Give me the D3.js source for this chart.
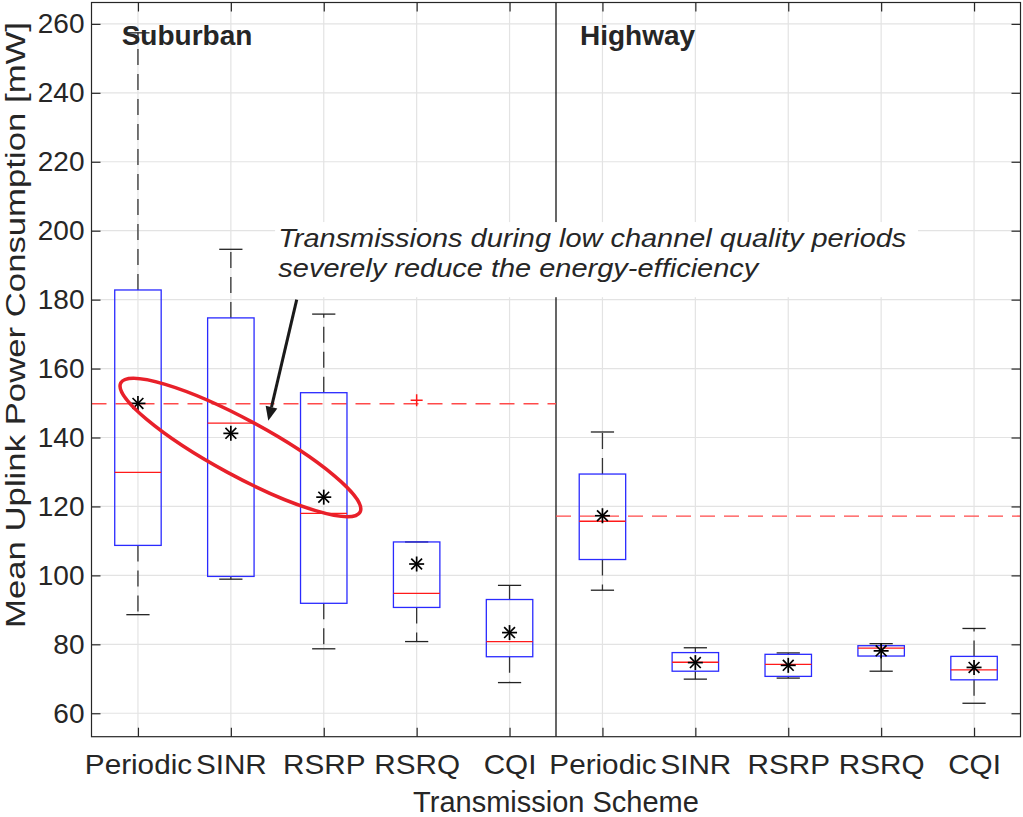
<!DOCTYPE html>
<html>
<head>
<meta charset="utf-8">
<script src="https://cdn.jsdelivr.net/npm/d3@7"></script>
<style>
  body { margin: 0; background: #fff; }
  text { font-family: Arial, 'Liberation Sans', Helvetica, sans-serif; fill: #262626; }
</style>
</head>
<body>
<div id="chart"></div>
<script>
const w = 1023;
const h = 817;

// data
const categories = ['Periodic', 'SINR', 'RSRP', 'RSRQ', 'CQI', 'Periodic', 'SINR', 'RSRP', 'RSRQ', 'CQI'];
const groups = ['Suburban', 'Highway'];
const q1 = [108.7, 99.7, 91.9, 90.7, 76.4, 104.6, 72.2, 70.7, 76.6, 69.7];
const medians = [129.9, 144.2, 118.0, 94.8, 80.8, 115.7, 74.8, 74.2, 78.9, 72.6];
const q3 = [182.8, 174.7, 153.0, 109.7, 93.0, 129.4, 77.6, 77.1, 79.6, 76.5];
const whiskerLow = [88.6, 98.9, 78.7, 80.8, 68.9, 95.7, 69.9, 70.2, 72.2, 62.9];
const whiskerHigh = [257.4, 194.6, 175.8, 109.7, 97.1, 141.6, 79.0, 77.5, 80.2, 84.6];
const means = [149.9, 141.2, 122.7, 103.3, 83.4, 117.3, 74.7, 73.9, 78.1, 73.3];
const outlierCategory = [4];
const outlierValue = [150.8];
const groupMean = [149.8, 117.2];
const yTicks = [60, 80, 100, 120, 140, 160, 180, 200, 220, 240, 260];
const annotation = ['Transmissions during low channel quality periods', 'severely reduce the energy-efficiency'];

const positions = categories.map((c, i) => i + 1);
const boxHalf = 0.25;
const capHalf = 0.125;

const svg = d3.select('#chart')
  .append('svg')
  .attr('width', w)
  .attr('height', h);

const xScale = d3.scaleLinear()
  .domain([0.5, 10.5])
  .range([91.5, 1020.5]);
const yScale = d3.scaleLinear()
  .domain([53.2, 266.2])
  .range([736.7, 2.5]);

//grid
svg.append('g')
  .selectAll('line')
  .data(yTicks)
  .enter()
  .append('line')
  .attr('x1', xScale(0.5))
  .attr('x2', xScale(10.5))
  .attr('y1', d => yScale(d))
  .attr('y2', d => yScale(d))
  .attr('stroke', '#e3e3e3')
  .attr('stroke-width', 1.2);

svg.append('g')
  .selectAll('line')
  .data(positions)
  .enter()
  .append('line')
  .attr('x1', d => xScale(d))
  .attr('x2', d => xScale(d))
  .attr('y1', yScale(53.2))
  .attr('y2', yScale(266.2))
  .attr('stroke', '#e3e3e3')
  .attr('stroke-width', 1.2);

// group divider
svg.append('line')
  .attr('x1', xScale(5.5))
  .attr('x2', xScale(5.5))
  .attr('y1', yScale(53.2))
  .attr('y2', yScale(266.2))
  .attr('stroke', '#000')
  .attr('stroke-width', 1.2);

// dashed reference lines (periodic mean of each group)
svg.append('g')
  .selectAll('line')
  .data(groupMean)
  .enter()
  .append('line')
  .attr('x1', (d, i) => xScale(0.5 + i * 5))
  .attr('x2', (d, i) => xScale(5.5 + i * 5))
  .attr('y1', d => yScale(d))
  .attr('y2', d => yScale(d))
  .attr('stroke', '#ff4a4a')
  .attr('stroke-width', 1.4)
  .attr('stroke-dasharray', '15 9');

// whiskers
const boxes = svg.append('g');
positions.forEach((p, i) => {
  [[q3[i], whiskerHigh[i]], [q1[i], whiskerLow[i]]].forEach(([a, b]) => {
    if (a === b) return;
    boxes.append('line')
      .attr('x1', xScale(p))
      .attr('x2', xScale(p))
      .attr('y1', yScale(a))
      .attr('y2', yScale(b))
      .attr('stroke', '#333')
      .attr('stroke-width', 1.3)
      .attr('stroke-dasharray', '16 9');
  });
  [whiskerHigh[i], whiskerLow[i]].forEach(v => {
    boxes.append('line')
      .attr('x1', xScale(p - capHalf))
      .attr('x2', xScale(p + capHalf))
      .attr('y1', yScale(v))
      .attr('y2', yScale(v))
      .attr('stroke', '#222')
      .attr('stroke-width', 1.3);
  });
});

// boxes
boxes.selectAll('rect')
  .data(positions)
  .enter()
  .append('rect')
  .attr('x', d => xScale(d - boxHalf))
  .attr('width', xScale(1 + boxHalf) - xScale(1 - boxHalf))
  .attr('y', (d, i) => yScale(q3[i]))
  .attr('height', (d, i) => yScale(q1[i]) - yScale(q3[i]))
  .attr('fill', 'none')
  .attr('stroke', '#2a2aff')
  .attr('stroke-width', 1.3);

// medians
boxes.selectAll('line.median')
  .data(positions)
  .enter()
  .append('line')
  .attr('class', 'median')
  .attr('x1', d => xScale(d - boxHalf))
  .attr('x2', d => xScale(d + boxHalf))
  .attr('y1', (d, i) => yScale(medians[i]))
  .attr('y2', (d, i) => yScale(medians[i]))
  .attr('stroke', '#ff1a1a')
  .attr('stroke-width', 1.3);

// means as asterisks
const star = 7.5;
positions.forEach((p, i) => {
  const cx = xScale(p), cy = yScale(means[i]);
  const g = svg.append('g').attr('transform', 'translate(' + cx + ',' + cy + ')');
  [[-star, 0, star, 0], [0, -star, 0, star], [-star * 0.72, -star * 0.72, star * 0.72, star * 0.72], [-star * 0.72, star * 0.72, star * 0.72, -star * 0.72]]
    .forEach(s => {
      g.append('line')
        .attr('x1', s[0]).attr('y1', s[1]).attr('x2', s[2]).attr('y2', s[3])
        .attr('stroke', '#000')
        .attr('stroke-width', 1.7);
    });
});

// outliers
outlierCategory.forEach((p, i) => {
  const cx = xScale(p), cy = yScale(outlierValue[i]);
  svg.append('path')
    .attr('d', 'M' + (cx - 6) + ',' + cy + 'H' + (cx + 6) + 'M' + cx + ',' + (cy - 6) + 'V' + (cy + 6))
    .attr('stroke', '#ff1a1a')
    .attr('stroke-width', 1.5);
});

// axes
const yLeft = svg.append('g')
  .attr('transform', 'translate(' + xScale(0.5) + ',0)')
  .call(d3.axisLeft(yScale).tickValues(yTicks).tickSize(-9).tickPadding(7));
const yRight = svg.append('g')
  .attr('transform', 'translate(' + xScale(10.5) + ',0)')
  .call(d3.axisRight(yScale).tickValues(yTicks).tickSize(-9).tickFormat(''));
const xBottom = svg.append('g')
  .attr('transform', 'translate(0,' + yScale(53.2) + ')')
  .call(d3.axisBottom(xScale).tickValues(positions).tickSize(-9).tickPadding(17)
    .tickFormat(d => categories[d - 1]));
const xTop = svg.append('g')
  .attr('transform', 'translate(0,' + yScale(266.2) + ')')
  .call(d3.axisTop(xScale).tickValues(positions).tickSize(-9).tickFormat(''));

[yLeft, yRight, xBottom, xTop].forEach(a => {
  a.select('.domain').remove();
  a.selectAll('line').attr('stroke', '#262626').attr('stroke-width', 1.2);
});
yLeft.selectAll('text').style('font-size', '28px').attr('fill', '#262626');
xBottom.selectAll('text')
  .style('font-size', '28px')
  .attr('fill', '#262626')
  .attr('lengthAdjust', 'spacingAndGlyphs')
  .attr('textLength', function () { return this.getComputedTextLength() * 1.06; });

// box around plot
svg.append('rect')
  .attr('x', xScale(0.5))
  .attr('y', yScale(266.2))
  .attr('width', xScale(10.5) - xScale(0.5))
  .attr('height', yScale(53.2) - yScale(266.2))
  .attr('fill', 'none')
  .attr('stroke', '#262626')
  .attr('stroke-width', 1.2);

// group labels
svg.selectAll('text.group')
  .data(groups)
  .enter()
  .append('text')
  .attr('class', 'group')
  .attr('x', (d, i) => xScale(i === 0 ? 0.825 : 5.758))
  .attr('y', yScale(253.8))
  .style('font-size', '28px')
  .style('font-weight', 'bold')
  .text(d => d);

//axis labels
svg.append('text')
  .attr('x', xScale(5.5))
  .attr('y', 812)
  .attr('text-anchor', 'middle')
  .style('font-size', '29px')
  .text('Transmission Scheme');

svg.append('text')
  .attr('text-anchor', 'middle')
  .attr('transform', 'translate(25,' + 325 + ')rotate(-90)')
  .attr('textLength', 606)
  .attr('lengthAdjust', 'spacingAndGlyphs')
  .style('font-size', '27px')
  .text('Mean Uplink Power Consumption [mW]');

// annotation: text box, arrow and ellipse
svg.append('rect')
  .attr('x', xScale(2.476))
  .attr('y', yScale(202.5))
  .attr('width', xScale(9.397) - xScale(2.476))
  .attr('height', yScale(180.7) - yScale(202.5))
  .attr('fill', '#fff');

svg.selectAll('text.note')
  .data(annotation)
  .enter()
  .append('text')
  .attr('class', 'note')
  .attr('x', xScale(2.511))
  .attr('y', (d, i) => yScale(195.3 - i * 8.7))
  .attr('textLength', (d, i) => i === 0 ? 628 : 480)
  .attr('lengthAdjust', 'spacingAndGlyphs')
  .style('font-size', '26px')
  .style('font-style', 'italic')
  .text(d => d);

const ax1 = xScale(2.709), ay1 = yScale(180.0);
const ax2 = xScale(2.403), ay2 = yScale(144.85);
const ang = Math.atan2(ay2 - ay1, ax2 - ax1);
const headLen = 14, headW = 6;
const bx = ax2 - headLen * Math.cos(ang), by = ay2 - headLen * Math.sin(ang);
svg.append('line')
  .attr('x1', ax1).attr('y1', ay1)
  .attr('x2', bx).attr('y2', by)
  .attr('stroke', '#1a1a1a')
  .attr('stroke-width', 3);
svg.append('path')
  .attr('d', 'M' + ax2 + ',' + ay2
    + 'L' + (bx + headW * Math.sin(ang)) + ',' + (by - headW * Math.cos(ang))
    + 'L' + (bx - headW * Math.sin(ang)) + ',' + (by + headW * Math.cos(ang)) + 'Z')
  .attr('fill', '#1a1a1a');

svg.append('ellipse')
  .attr('cx', 0)
  .attr('cy', 0)
  .attr('rx', 136)
  .attr('ry', 28)
  .attr('transform', 'translate(' + xScale(2.103) + ',' + yScale(137.1) + ')rotate(28.4)')
  .attr('fill', 'none')
  .attr('stroke', '#e8202a')
  .attr('stroke-width', 3.5);
</script>
</body>
</html>
